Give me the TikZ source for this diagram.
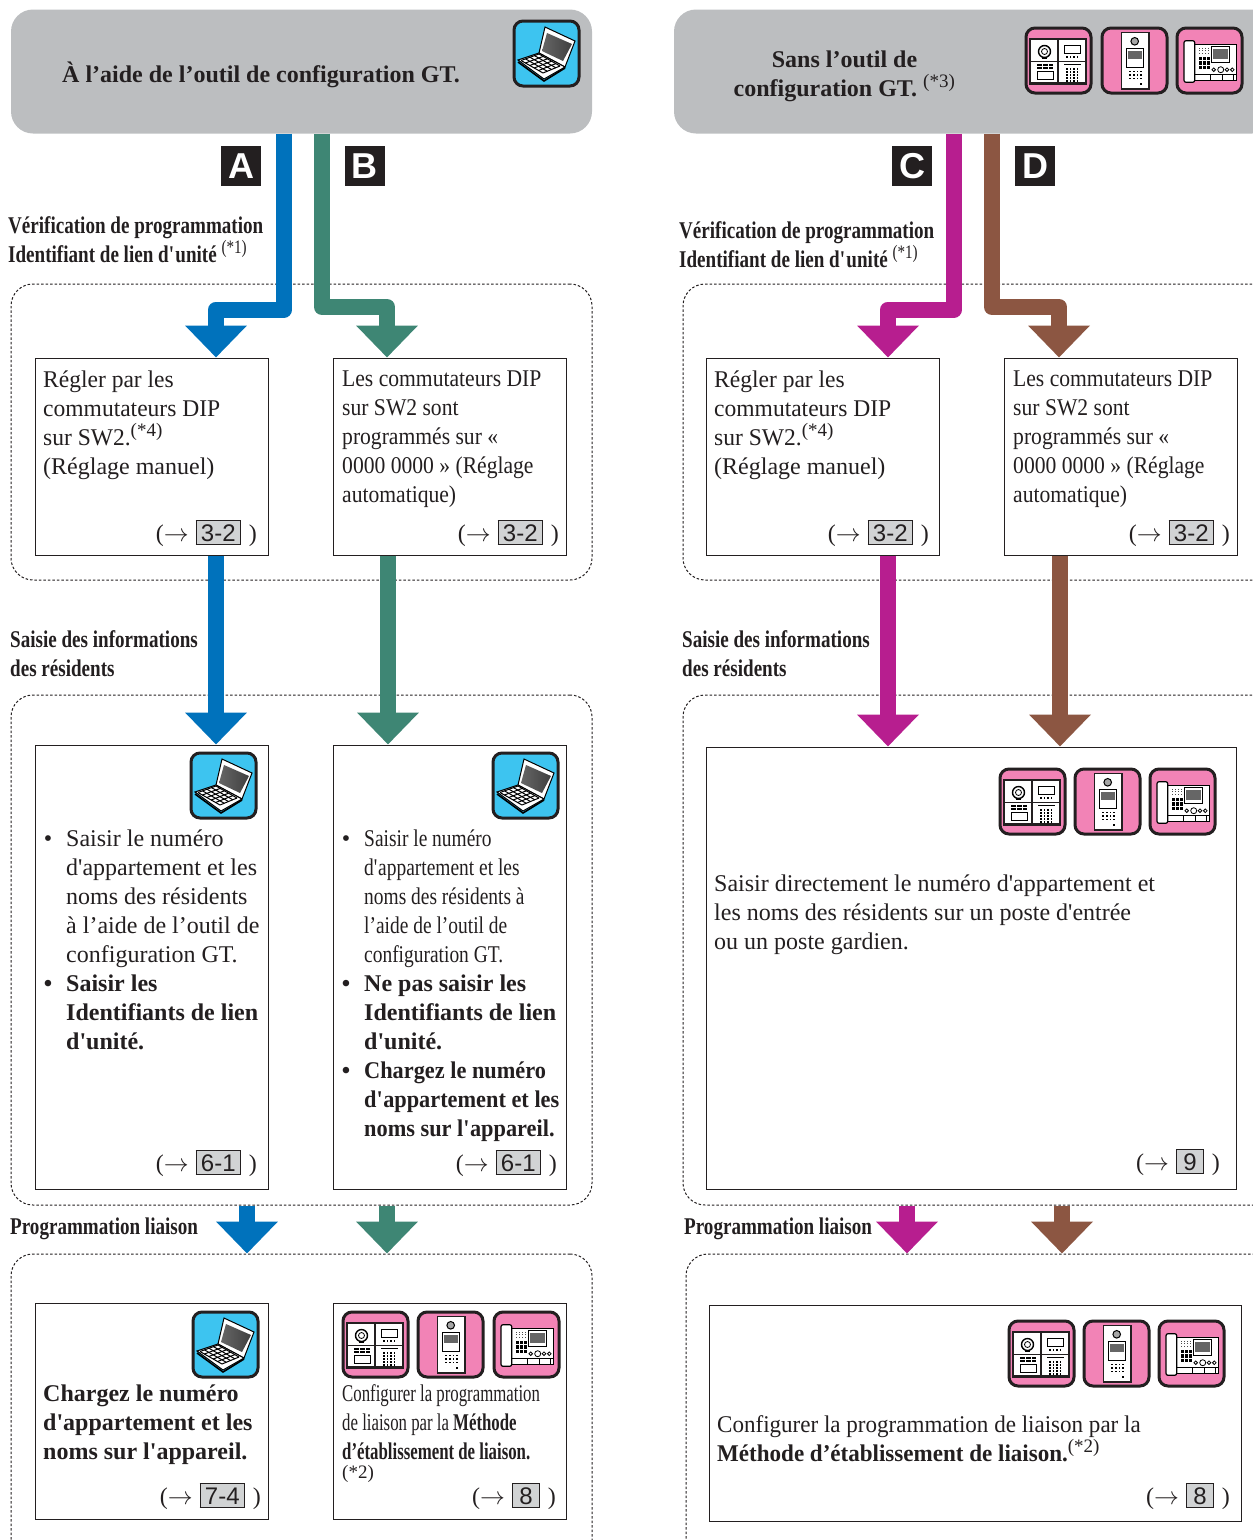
\documentclass[tikz,border=0pt]{standalone}
\usepackage{fontspec}
\setmainfont{Liberation Serif}
\setsansfont{Liberation Sans}
\newfontfamily\condfont[FakeStretch=0.795]{Liberation Serif}
\newfontfamily\midfont[FakeStretch=0.81]{Liberation Serif}
\newfontfamily\narrowfont[FakeStretch=0.7]{Liberation Serif}
\newfontfamily\boldfont[FakeStretch=0.93]{Liberation Serif}
\newfontfamily\tightfont[FakeStretch=0.9]{Liberation Serif}
\newfontfamily\firmfont[FakeStretch=0.96]{Liberation Serif}
\newfontfamily\nearfont[FakeStretch=0.98]{Liberation Serif}
\usetikzlibrary{arrows.meta}
\definecolor{hdrgray}{HTML}{BCBEC0}
\definecolor{refgray}{HTML}{D1D3D4}
\definecolor{inkblack}{HTML}{231F20}
\definecolor{iconcyan}{HTML}{3DC4F0}
\definecolor{iconpink}{HTML}{F283B6}
\definecolor{flowblue}{HTML}{0072BC}
\definecolor{flowgreen}{HTML}{3E8674}
\definecolor{flowpurple}{HTML}{B71E8F}
\definecolor{flowbrown}{HTML}{8C5642}
\newcommand{\seeref}[1]{(\kern0pt$\rightarrow$\kern7pt\fcolorbox{inkblack}{refgray}{\fontsize{24}{24}\sffamily\rule[-0.5pt]{0pt}{18.5pt}\kern2pt #1\kern2pt}\kern8pt)}
\newcommand{\sq}{\textquotesingle}
\newcommand{\note}[1]{\textsuperscript{\fontsize{19}{19}\selectfont(*#1)}}
\setlength{\fboxsep}{2pt}
\setlength{\fboxrule}{1.2pt}
\tikzset{
	bodytext/.style={anchor=north west, inner sep=0pt, align=left, text=inkblack, font=\fontsize{24}{29}\selectfont},
	sectext/.style={bodytext, font=\fontsize{24}{29}\selectfont\condfont\bfseries},
	titletext/.style={inner sep=0pt, align=center, text=inkblack, font=\fontsize{24}{29}\selectfont\bfseries},
	reftext/.style={anchor=east, inner sep=0pt, text=inkblack, font=\fontsize{24}{29}\selectfont},
	hdrbox/.style={fill=hdrgray, rounded corners=22pt, inner sep=0pt},
	stepbox/.style={draw=inkblack, line width=1pt, fill=white, inner sep=0pt},
	grpbox/.style={draw=inkblack, line width=1pt, dash pattern=on 2.5pt off 2pt, rounded corners=22pt, inner sep=0pt},
	letterbox/.style={fill=inkblack, text=white, minimum size=40pt, inner sep=0pt, font=\fontsize{36}{36}\selectfont\sffamily\bfseries},
	flow/.style={line width=16pt, line join=round, -{Triangle[width=60pt,length=32pt]}},
	laptop/.pic={
		\draw[line width=3pt, inkblack, fill=iconcyan, rounded corners=9pt] (0,0) rectangle (65,65);
		\draw[line width=1pt, black, fill=white] (25,32) -- (31,6) -- (61,20) -- (51,46) -- cycle;
		\shade[left color=black!60, middle color=black!30, right color=black!75] (28,30) -- (33,12) -- (58,23) -- (49,40) -- cycle;
		\draw[line width=1pt, black, fill=white] (4,39) -- (25,32) -- (51,46) -- (30,58) -- cycle;
		\foreach \v in {0,0.2,...,1.01} {
			\draw[line width=1pt, black] ({7+22*\v},{39.5+12.5*\v}) -- ({25+21*\v},{33+12*\v});
		}
		\foreach \u in {0,0.25,...,1.01} {
			\draw[line width=1pt, black] ({7+18*\u},{39.5-6.5*\u}) -- ({29+17*\u},{52-7*\u});
		}
		\draw[line width=1.6pt, black] (4,41) -- (30,60) -- (51,47);
	},
	panela/.pic={
		\draw[line width=3pt, inkblack, fill=iconpink, rounded corners=9pt] (0,0) rectangle (65,65);
		\draw[line width=2.4pt, inkblack, fill=white] (4,11) rectangle (60,55.5);
		\draw[line width=1.5pt, inkblack] (32,11) -- (32,55.5) (4,33.7) -- (60,33.7);
		\draw[line width=1.4pt, black] (18.5,23.5) circle (6);
		\draw[line width=.8pt, black] (18.5,23.5) circle (3);
		\fill[black] (16,29) rectangle (21,31);
		\draw[line width=1pt, black] (38,17.5) rectangle (54.5,25);
		\foreach \x in {40,43.5,47,50.5} {
			\fill[black] (\x,28) rectangle +(1.6,1.6);
			\foreach \y in {40,43,46,49,52} \fill[black] (\x,\y) rectangle +(1.6,1.6);
		}
		\fill[black] (11,35.5) rectangle (27,41);
		\draw[line width=.8pt, white] (16.5,35.5) -- (16.5,41) (22,35.5) -- (22,41) (11,38.2) -- (27,38.2);
		\draw[line width=1pt, black] (11,43.5) rectangle (27,51);
		\draw[line width=1pt, black] (38,36.7) -- (54.5,36.7);
	},
	panelb/.pic={
		\draw[line width=3pt, inkblack, fill=iconpink, rounded corners=9pt] (0,0) rectangle (65,65);
		\draw[line width=1.5pt, inkblack, fill=white] (19.5,4.5) rectangle (47,61);
		\draw[line width=1pt, black, fill=black!35] (32.7,13.3) circle (3.8);
		\draw[line width=1pt, black] (24.5,20.5) rectangle (41.2,39.5);
		\fill[black!60] (26,22.5) rectangle (39.7,31);
		\foreach \x in {27,30.8,34.6,38.4} {
			\foreach \y in {42.5,46,49.5} \fill[black] (\x,\y) rectangle +(1.7,1.7);
		}
		\fill[black] (38,54.5) rectangle +(2,2);
	},
	panelc/.pic={
		\draw[line width=3pt, inkblack, fill=iconpink, rounded corners=9pt] (0,0) rectangle (65,65);
		\draw[line width=1pt, black, fill=white] (17.7,16) rectangle (59.3,52.5);
		\draw[line width=1.2pt, black, fill=white, rounded corners=2pt] (7,12.7) rectangle (17.7,54.3);
		\draw[line width=1pt, black] (34.3,18.7) rectangle (52.7,34.3);
		\fill[black!60] (36,21) rectangle (51,31);
		\foreach \x in {22,25,28,31} {
			\foreach \y in {19.5,22,24.5} \fill[black!70] (\x,\y) rectangle +(1.3,1.3);
		}
		\foreach \x in {21.5,25.5,29.5} {
			\foreach \y in {29,33.3,37.6} \fill[black] (\x,\y) rectangle +(3,3.2);
		}
		\draw[line width=.8pt, black] (36.7,41.7) circle (1.8) (43.7,41.7) circle (3) (50,41.7) circle (1.8) (55.3,41.7) circle (1.8);
		\draw[line width=.8pt, black] (17.7,46.7) -- (59.3,46.7) (33,46.7) -- (33,52.5) (45,46.7) -- (45,52.5) (56,46.7) -- (56,52.5);
	}
}
\begin{document}
\begin{tikzpicture}[x=1pt, y=-1pt]
	\useasboundingbox (0,0) rectangle (1253,1540);
	\clip (0,0) rectangle (1253,1540);
	
	% dotted groups
	\node[grpbox, minimum width=581pt, minimum height=296pt] (grpLa) at (301.5,432) {};
	\node[grpbox, minimum width=581pt, minimum height=510pt] (grpLb) at (301.5,950) {};
	\node[grpbox, minimum width=581pt, minimum height=310pt] (grpLc) at (301.5,1409) {};
	\node[grpbox, minimum width=600pt, minimum height=296pt] (grpRa) at (983,432) {};
	\node[grpbox, minimum width=600pt, minimum height=510pt] (grpRb) at (983,950) {};
	\node[grpbox, minimum width=600pt, minimum height=310pt] (grpRc) at (986,1409) {};
	
	% headers
	\node[hdrbox, minimum width=581pt, minimum height=124pt] (hdrL) at (301.5,71.5) {};
	\node[hdrbox, minimum width=600pt, minimum height=124pt] (hdrR) at (974,71.5) {};
	\node[titletext, anchor=west] (titleL) at (62,75) {À l’aide de l’outil de configuration GT.};
	\node[titletext] (titleR) at (844.5,76) {Sans l’outil de\\configuration GT. {\mdseries\note{3}}};
	
	% letters
	\node[letterbox] (letA) at (241,166) {A};
	\node[letterbox] (letB) at (364.5,166) {B};
	\node[letterbox] (letC) at (912,166) {C};
	\node[letterbox] (letD) at (1035,166) {D};
	
	% boxes, first row
	\node[stepbox, minimum width=233pt, minimum height=197pt] (setA) at (151.5,456.5) {};
	\node[stepbox, minimum width=233pt, minimum height=197pt] (setB) at (449.5,456.5) {};
	\node[stepbox, minimum width=233pt, minimum height=197pt] (setC) at (822.5,456.5) {};
	\node[stepbox, minimum width=233pt, minimum height=197pt] (setD) at (1120.5,456.5) {};
	
	% boxes, second row
	\node[stepbox, minimum width=233pt, minimum height=444pt] (inA) at (151.5,967) {};
	\node[stepbox, minimum width=233pt, minimum height=444pt] (inB) at (449.5,967) {};
	\node[stepbox, minimum width=530pt, minimum height=442pt] (inC) at (971,968) {};
	
	% boxes, third row
	\node[stepbox, minimum width=233pt, minimum height=216pt] (lnkA) at (151.5,1411) {};
	\node[stepbox, minimum width=233pt, minimum height=216pt] (lnkB) at (449.5,1411) {};
	\node[stepbox, minimum width=532pt, minimum height=216pt] (lnkC) at (975,1413) {};
	
	% arrows
	\draw[flow, flowblue] (hdrL.south -| 284,0) |- (216,309.5) -- (setA.north -| 216,0);
	\draw[flow, flowgreen] (hdrL.south -| 322,0) |- (387,307) -- (setB.north -| 387,0);
	\draw[flow, flowpurple] (hdrR.south -| 954,0) |- (888,309.5) -- (setC.north -| 888,0);
	\draw[flow, flowbrown] (hdrR.south -| 992,0) |- (1059,307) -- (setD.north -| 1059,0);
	
	\draw[flow, flowblue] (setA.south -| 216,0) -- (inA.north -| 216,0);
	\draw[flow, flowgreen] (setB.south -| 388,0) -- (inB.north -| 388,0);
	\draw[flow, flowpurple] (setC.south -| 888,0) -- (inC.north -| 888,0);
	\draw[flow, flowbrown] (setD.south -| 1060,0) -- (inC.north -| 1060,0);
	
	\draw[flow, flowblue] (grpLb.south -| 247,0) -- (grpLc.north -| 247,0);
	\draw[flow, flowgreen] (grpLb.south -| 387,0) -- (grpLc.north -| 387,0);
	\draw[flow, flowpurple] (grpRb.south -| 907,0) -- (grpRc.north -| 907,0);
	\draw[flow, flowbrown] (grpRb.south -| 1062,0) -- (grpRc.north -| 1062,0);
	
	% section labels
	\node[sectext] (secLa) at (8,216) {Vérification de programmation\\Identifiant de lien d\sq unité {\mdseries\note{1}}};
	\node[sectext] (secRa) at (679,221) {Vérification de programmation\\Identifiant de lien d\sq unité {\mdseries\note{1}}};
	\node[sectext] (secLb) at (10,630) {Saisie des informations\\des résidents};
	\node[sectext] (secRb) at (682,630) {Saisie des informations\\des résidents};
	\node[sectext] (secLc) at (10,1218) {Programmation liaison};
	\node[sectext] (secRc) at (684,1218) {Programmation liaison};
	
	% first row texts
	\node[bodytext] (txtA) at (43,371) {{\nearfont Régler par les}\\{\nearfont commutateurs DIP}\\{\nearfont sur SW2.}\note{4}\\(Réglage manuel)};
	\node[bodytext] (txtB) at (342,371) {{\tightfont Les commutateurs DIP}\\{\tightfont sur SW2 sont}\\{\tightfont programmés sur «}\\{\tightfont 0000 0000 » (Réglage}\\{\tightfont automatique)}};
	\node[bodytext] (txtC) at (714,371) {{\nearfont Régler par les}\\{\nearfont commutateurs DIP}\\{\nearfont sur SW2.}\note{4}\\(Réglage manuel)};
	\node[bodytext] (txtD) at (1013,371) {{\tightfont Les commutateurs DIP}\\{\tightfont sur SW2 sont}\\{\tightfont programmés sur «}\\{\tightfont 0000 0000 » (Réglage}\\{\tightfont automatique)}};
	
	% second row texts
	\node[bodytext] (txtE) at (66,830) {\llap{•\kern14pt}Saisir le numéro\\d\sq appartement et les\\noms des résidents\\à l’aide de l’outil de\\configuration GT.\\\llap{\textbf{•}\kern14pt}\textbf{Saisir les}\\\textbf{Identifiants de lien}\\\textbf{d\sq unité.}};
	\node[bodytext] (txtF) at (364,830) {\llap{•\kern14pt}{\midfont Saisir le numéro}\\{\midfont d\sq appartement et les}\\{\midfont noms des résidents à}\\{\midfont l’aide de l’outil de}\\{\midfont configuration GT.}\\\llap{\textbf{•}\kern14pt}\textbf{Ne pas saisir les}\\\textbf{Identifiants de lien}\\\textbf{d\sq unité.}\\\llap{\textbf{•}\kern14pt}{\boldfont\bfseries Chargez le numéro}\\{\boldfont\bfseries d\sq appartement et les}\\{\boldfont\bfseries noms sur l\sq appareil.}};
	\node[bodytext] (txtG) at (714,875) {Saisir directement le numéro d\sq appartement et\\les noms des résidents sur un poste d\sq entrée\\ou un poste gardien.};
	
	% third row texts
	\node[bodytext, font=\fontsize{24}{29}\selectfont\bfseries] (txtH) at (43,1385) {Chargez le numéro\\d\sq appartement et les\\noms sur l\sq appareil.};
	\node[bodytext] (txtI) at (342,1384) {{\narrowfont Configurer la programmation}\\{\narrowfont de liaison par la \textbf{Méthode}}\\{\narrowfont\textbf{d’établissement de liaison.}}};
	\node[bodytext, font=\fontsize{19}{19}\selectfont] (txtIn) at (342,1465) {(*2)};
	\node[bodytext] (txtJ) at (717,1415) {{\firmfont Configurer la programmation de liaison par la}\\{\firmfont\bfseries Méthode d’établissement de liaison.}\note{2}};
	
	% page references
	\node[reftext] (refA) at (257,533) {\seeref{3-2}};
	\node[reftext] (refB) at (559,533) {\seeref{3-2}};
	\node[reftext] (refC) at (929,533) {\seeref{3-2}};
	\node[reftext] (refD) at (1230,533) {\seeref{3-2}};
	\node[reftext] (refE) at (257,1163) {\seeref{6-1}};
	\node[reftext] (refF) at (557,1163) {\seeref{6-1}};
	\node[reftext] (refG) at (1220,1162) {\seeref{\kern2pt 9\kern2pt}};
	\node[reftext] (refH) at (261,1496) {\seeref{7-4}};
	\node[reftext] (refI) at (556,1496) {\seeref{\kern2pt 8\kern2pt}};
	\node[reftext] (refJ) at (1230,1496) {\seeref{\kern2pt 8\kern2pt}};
	
	% icons
	\pic at (514,21) {laptop};
	\pic at (1026,28) {panela};
	\pic at (1102,28) {panelb};
	\pic at (1177,28) {panelc};
	\pic at (191,753) {laptop};
	\pic at (493,753) {laptop};
	\pic at (1000,769) {panela};
	\pic at (1075,769) {panelb};
	\pic at (1150,769) {panelc};
	\pic at (193,1312) {laptop};
	\pic at (343,1312) {panela};
	\pic at (418,1312) {panelb};
	\pic at (494,1312) {panelc};
	\pic at (1009,1321) {panela};
	\pic at (1084,1321) {panelb};
	\pic at (1159,1321) {panelc};
\end{tikzpicture}
\end{document}
